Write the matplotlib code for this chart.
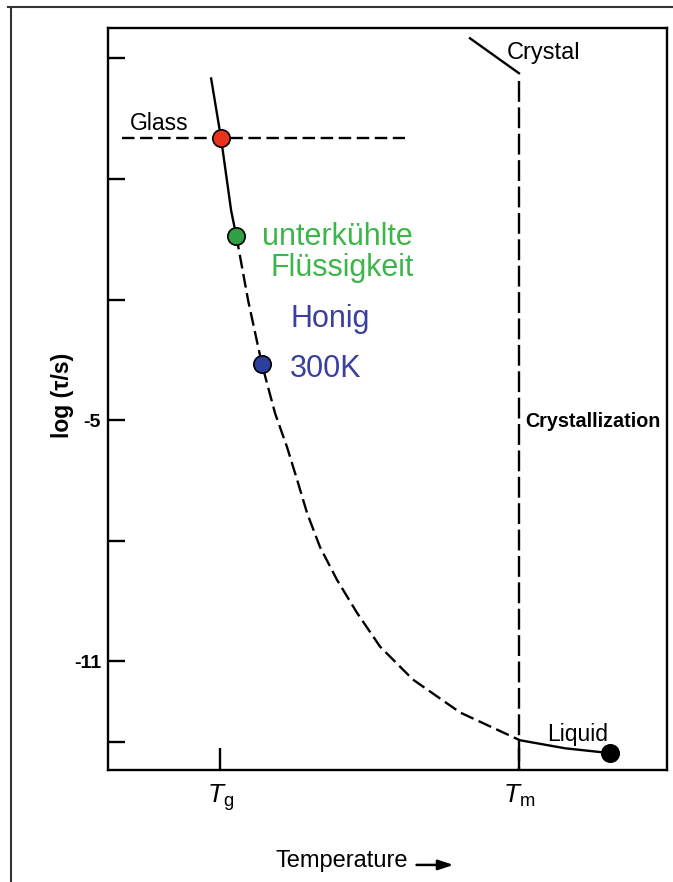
import matplotlib
matplotlib.use("Agg")
import matplotlib.pyplot as plt
from matplotlib.lines import Line2D

# relaxation time vs. temperature (T in units of Tg, Tm = 2 Tg)
curve_T = [0.970, 1.003, 1.037, 1.054, 1.094, 1.140, 1.184, 1.224, 1.258, 1.291,
           1.334, 1.391, 1.458, 1.535, 1.645, 1.803, 2.003, 2.154, 2.304]
curve_logtau = [3.50, 2.02, 0.21, -0.41, -2.03, -3.61, -4.83, -5.67, -6.49, -7.31,
                -8.15, -8.97, -9.79, -10.63, -11.45, -12.27, -12.96, -13.16, -13.28]
solid_end = 3      # solid line down to here, then dashed
tm_index = 16      # melting point on the curve, solid again after it

glass_T = [0.672, 1.619]
glass_logtau = [2.02, 2.02]
crystal_T = [1.836, 2.0]
crystal_logtau = [4.50, 3.63]
Tg, Tm = 1.0, 2.0

point_idx = [1, 3, 5, 18]
point_colors = ["#e8341c", "#2fa043", "#2d3f9c", "#000000"]

ytick_vals = [4, 1, -2, -5, -8, -11, -13]
ytick_labels = ["", "", "", "-5", "", "-11", ""]

plt.rcParams["font.family"] = ["Liberation Sans", "DejaVu Sans"]
plt.rcParams["mathtext.fontset"] = "custom"
plt.rcParams["mathtext.it"] = "Liberation Sans:italic"
plt.rcParams["mathtext.rm"] = "Liberation Sans"
plt.rcParams["lines.scale_dashes"] = False

fig = plt.figure(figsize=(6.73, 8.82), dpi=100)
ax = fig.add_axes([0.1605, 0.127, 0.8305, 0.841])

lw = 1.7
ax.plot(curve_T[:solid_end + 1], curve_logtau[:solid_end + 1], color="black", lw=lw)
ax.plot(curve_T[solid_end:tm_index + 1], curve_logtau[solid_end:tm_index + 1],
        color="black", lw=lw, linestyle=(0, (10, 4)))
ax.plot(curve_T[tm_index:], curve_logtau[tm_index:], color="black", lw=lw)

ax.plot(glass_T, glass_logtau, color="black", lw=lw, linestyle=(0, (9, 4)))
ax.plot(crystal_T, crystal_logtau, color="black", lw=lw)
ax.plot([Tm, Tm], [crystal_logtau[1] - 0.2, -13.7], color="black", lw=lw,
        linestyle=(0, (15, 4)))

for i, c in zip(point_idx, point_colors):
    ax.plot(curve_T[i], curve_logtau[i], "o", ms=12.5, mfc=c, mec="black", mew=1.2,
            zorder=5)

ax.set_xlim(0.625, 2.495)
ax.set_ylim(-13.7, 4.75)
ax.set_yticks(ytick_vals)
ax.set_yticklabels(ytick_labels, fontsize=14, fontweight="bold")
ax.set_xticks([Tg, Tm])
ax.set_xticklabels([r"$T_{\mathrm{g}}$", r"$T_{\mathrm{m}}$"], fontsize=19)
ax.tick_params(axis="y", direction="in", length=12, width=1.7, pad=5)
ax.tick_params(axis="x", direction="in", length=16, width=1.7, pad=9)
for s in ax.spines.values():
    s.set_linewidth(1.7)

ax.set_ylabel("log (τ/s)", fontsize=16.5, fontweight="bold")
ax.yaxis.set_label_coords(-0.060, 0.505)
ax.set_xlabel("Temperature", fontsize=17)
ax.xaxis.set_label_coords(0.418, -0.108)
ax.annotate("", xy=(0.618, -0.128), xytext=(0.552, -0.128),
            xycoords="axes fraction", textcoords="axes fraction",
            arrowprops=dict(arrowstyle="-|>,head_length=0.9,head_width=0.3",
                            color="black", lw=1.8, shrinkA=0, shrinkB=0))

lab = dict(color="black", va="baseline", ha="left")
ax.text(0.699, 2.215, "Glass", fontsize=16.5, **lab)
ax.text(1.960, 3.976, "Crystal", fontsize=17, **lab)
ax.text(2.020, -5.17, "Crystallization", fontsize=14.2, fontweight="bold", **lab)
ax.text(2.094, -12.98, "Liquid", fontsize=16.5, **lab)

ax.text(1.140, -0.636, "unterkühlte", fontsize=22, color="#3cb54a",
        va="baseline", ha="left")
ax.text(1.167, -1.405, "Flüssigkeit", fontsize=22, color="#3cb54a",
        va="baseline", ha="left")
ax.text(1.234, -2.69, "Honig", fontsize=22, color="#3b3f9e",
        va="baseline", ha="left")
ax.text(1.234, -3.93, "300K", fontsize=22, color="#3b3f9e",
        va="baseline", ha="left")

# frame of the scanned slide
fig.add_artist(Line2D([8 / 673, 1.0], [0.992, 0.992], color="#333333", lw=1.5,
                      transform=fig.transFigure))
fig.add_artist(Line2D([0.0163, 0.0163], [0.992, 0.0], color="#333333", lw=1.5,
                      transform=fig.transFigure))

fig.savefig("out.png", dpi=100)
